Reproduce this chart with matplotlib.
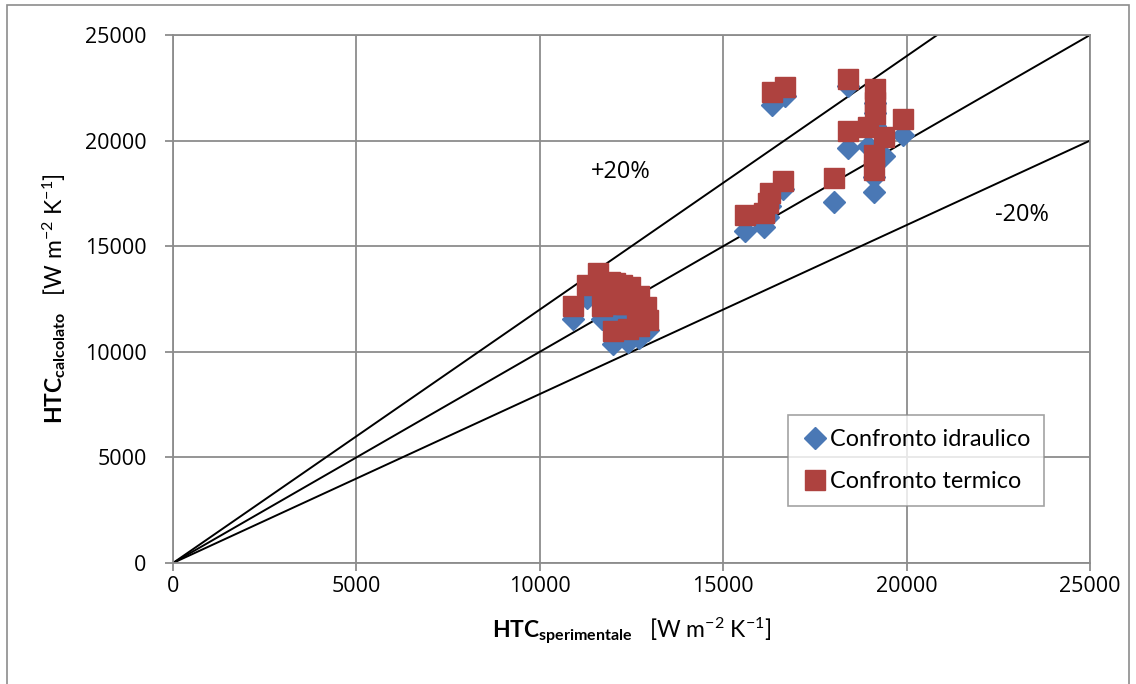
import matplotlib
matplotlib.use("Agg")
import matplotlib.pyplot as plt
from matplotlib.patches import Rectangle
import numpy as np

plt.rcParams['font.family'] = ['Lato', 'DejaVu Sans']
plt.rcParams['mathtext.fontset'] = 'custom'
plt.rcParams['mathtext.rm'] = 'Lato'
plt.rcParams['mathtext.bf'] = 'Lato:bold'
plt.rcParams['mathtext.it'] = 'Lato:italic'

# Experimental HTC [W m-2 K-1] and corresponding calculated values
htc_sperimentale = [
    10900, 11280, 11590, 11800, 11700, 11920, 12050, 12450, 12240, 12100,
    12700, 12900, 12350, 12640, 12870, 12000, 12400, 12700, 12950,
    16330, 16680, 18400, 19130, 19140, 19150, 19900, 18400, 18950, 19380,
    19120, 19100, 18030, 16620, 16280, 16230, 16100, 15600,
]
htc_calc_idraulico = [
    11550, 12550, 13100, 12450, 11550, 12700, 12600, 12450, 12500, 11650,
    12000, 11450, 11750, 11500, 11100, 10350, 10450, 10650, 11050,
    21700, 22100, 22600, 21800, 21300, 20700, 20250, 19650, 19750, 19250,
    18300, 17550, 17100, 17700, 16900, 16400, 15900, 15700,
]
htc_calc_termico = [
    12150, 13150, 13750, 13100, 12150, 13300, 13250, 13050, 13150, 12250,
    12650, 12100, 12250, 12060, 11650, 11000, 11100, 11200, 11500,
    22300, 22550, 22900, 22450, 21850, 21250, 21000, 20450, 20650, 20150,
    19300, 18600, 18230, 18100, 17500, 17030, 16550, 16480,
]

axis_ticks = [0, 5000, 10000, 15000, 20000, 25000]
band_factors = [1.2, 1.0, 0.8]
band_labels = ["+20%", "-20%"]

grid_color = "#8c8c8c"
blue = "#4A78B5"
red = "#AE423F"
num_font = ['Open Sans', 'DejaVu Sans']

fig = plt.figure(figsize=(11.36, 6.84), dpi=100)
ax = fig.add_axes([173 / 1136, 1 - 563 / 684, 917 / 1136, 528 / 684])

ax.set_xlim(0, 25000)
ax.set_ylim(0, 25000)
ax.set_xticks(axis_ticks)
ax.set_yticks(axis_ticks)
ax.grid(True, color=grid_color, linewidth=1.3, zorder=0)
ax.set_axisbelow(True)
for s in ax.spines.values():
    s.set_color(grid_color)
    s.set_linewidth(1.3)
ax.tick_params(axis='both', direction='out', length=6, width=1.3, color=grid_color)
ax.tick_params(axis='x', pad=3)
ax.tick_params(axis='y', pad=13)
for lbl in ax.get_xticklabels() + ax.get_yticklabels():
    lbl.set_fontfamily(num_font)
    lbl.set_fontsize(15.5)

# Reference lines: y = x and +/-20% bands
xs = np.array([0, 25000])
for f in band_factors:
    ax.plot(xs, f * xs, color="black", linewidth=1.4, zorder=2)

ax.plot(htc_sperimentale, htc_calc_idraulico, linestyle="none", marker="D",
        markersize=11, color=blue, markeredgecolor=blue, zorder=3,
        label="Confronto idraulico")
ax.plot(htc_sperimentale, htc_calc_termico, linestyle="none", marker="s",
        markersize=14, color=red, markeredgecolor=red, zorder=4,
        label="Confronto termico")

ax.text(12200, 18500, band_labels[0], fontsize=17, family=num_font,
        ha="center", va="center")
ax.text(23150, 16480, band_labels[1], fontsize=17, family=num_font,
        ha="center", va="center")

ax.set_xlabel(r"$\mathbf{HTC_{sperimentale}}$   [W m$^{-2}$ K$^{-1}$]",
              fontsize=16.5, labelpad=14)
ax.set_ylabel(r"$\mathbf{HTC_{calcolato}}$   [W m$^{-2}$ K$^{-1}$]",
              fontsize=16.5, labelpad=12)

leg = ax.legend(loc="lower left", bbox_to_anchor=(0.6707, 0.108), fontsize=16.8,
                frameon=True, fancybox=False, edgecolor=grid_color,
                handletextpad=0.1, handlelength=1.1, labelspacing=0.9,
                borderpad=0.6, borderaxespad=0)
leg.get_frame().set_linewidth(1.2)

fig.patches.append(Rectangle((7 / 1136, -0.02), (1129 - 7) / 1136, 1.02 - 5 / 684,
                             transform=fig.transFigure, fill=False,
                             edgecolor=grid_color, linewidth=1.2))

fig.savefig("out.png", dpi=100)
